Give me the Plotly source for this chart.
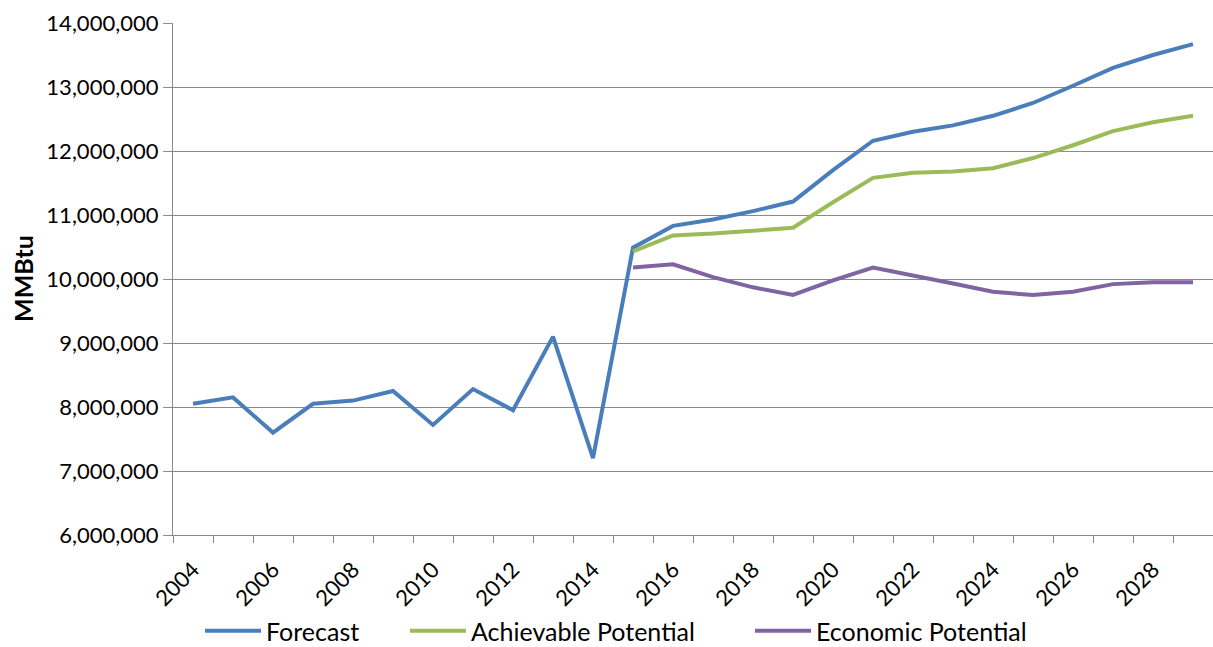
import plotly.graph_objects as go

# Annual energy use, MMBtu
years = list(range(2004, 2030))

forecast = [8050000, 8150000, 7600000, 8050000, 8100000, 8250000, 7720000, 8280000,
            7950000, 9100000, 7200000, 10490000, 10830000, 10930000, 11060000, 11210000,
            11700000, 12160000, 12300000, 12400000, 12550000, 12750000, 13020000, 13300000,
            13500000, 13670000]

achievable_years = list(range(2015, 2030))
achievable = [10430000, 10680000, 10710000, 10755000, 10800000, 11200000, 11580000,
              11660000, 11680000, 11730000, 11890000, 12090000, 12310000, 12450000, 12550000]

economic_years = list(range(2015, 2030))
economic = [10180000, 10230000, 10030000, 9870000, 9750000, 9980000, 10180000,
            10060000, 9930000, 9800000, 9750000, 9800000, 9920000, 9950000, 9950000]

x_tick_years = list(range(2004, 2030, 2))
y_ticks = list(range(6000000, 14000001, 1000000))

BLUE = "#4A7EBB"
GREEN = "#9BBB59"
PURPLE = "#8064A2"
GRID = "#8A8A8A"
FONT = "Lato"
W, H = 1213, 647
M_L, M_R, M_T, M_B = 173, 0, 23, 112
PLOT_W = W - M_L - M_R
PLOT_H = H - M_T - M_B

fig = go.Figure()
fig.add_trace(go.Scatter(x=years, y=forecast, mode="lines", name="Forecast",
                         line=dict(color=BLUE, width=4), legend="legend"))
fig.add_trace(go.Scatter(x=achievable_years, y=achievable, mode="lines",
                         name="Achievable Potential", line=dict(color=GREEN, width=4),
                         legend="legend2"))
fig.add_trace(go.Scatter(x=economic_years, y=economic, mode="lines",
                         name="Economic Potential", line=dict(color=PURPLE, width=4),
                         legend="legend3"))


def legend_box(left_px):
    # one legend entry under the plot, placed by its left edge in page pixels
    return dict(orientation="h", xref="paper", yref="paper",
                x=(left_px - M_L) / PLOT_W, xanchor="left",
                y=-(631 - (H - M_B)) / PLOT_H, yanchor="middle",
                font=dict(size=25, family=FONT, color="#000000"),
                itemwidth=56, bgcolor="rgba(0,0,0,0)", borderwidth=0)


fig.update_layout(
    width=W, height=H,
    margin=dict(l=M_L, r=M_R, t=M_T, b=M_B, autoexpand=False),
    paper_bgcolor="white", plot_bgcolor="white",
    font=dict(family=FONT, color="#000000"),
    showlegend=True,
    legend=legend_box(200),
    legend2=legend_box(405),
    legend3=legend_box(750),
    xaxis=dict(
        range=[2003.5, 2029.5],
        tickmode="array", tickvals=x_tick_years, ticktext=[str(y) for y in x_tick_years],
        tickangle=-45, tickfont=dict(size=22, family=FONT),
        ticklabelstandoff=12,
        ticks="", showgrid=False, zeroline=False,
        showline=True, linecolor=GRID, linewidth=1.3,
        minor=dict(tickmode="linear", tick0=2003.5, dtick=1, ticks="outside",
                   ticklen=7, tickcolor=GRID, tickwidth=1.3, showgrid=False),
    ),
    yaxis=dict(
        range=[6000000, 14000000],
        tickmode="array", tickvals=y_ticks,
        tickformat=",d", tickfont=dict(size=22, family=FONT),
        ticks="outside", ticklen=9, tickcolor=GRID, tickwidth=1.3,
        showgrid=True, gridcolor=GRID, gridwidth=1.3,
        zeroline=False, showline=True, linecolor=GRID, linewidth=1.3,
    ),
    annotations=[dict(
        text="<b>MMBtu</b>", xref="paper", yref="paper", x=0, y=0.5,
        xanchor="center", yanchor="middle", xshift=-150, textangle=-90,
        showarrow=False, font=dict(size=25, family=FONT, color="#000000"),
    )],
)

fig.write_html("out.html")
